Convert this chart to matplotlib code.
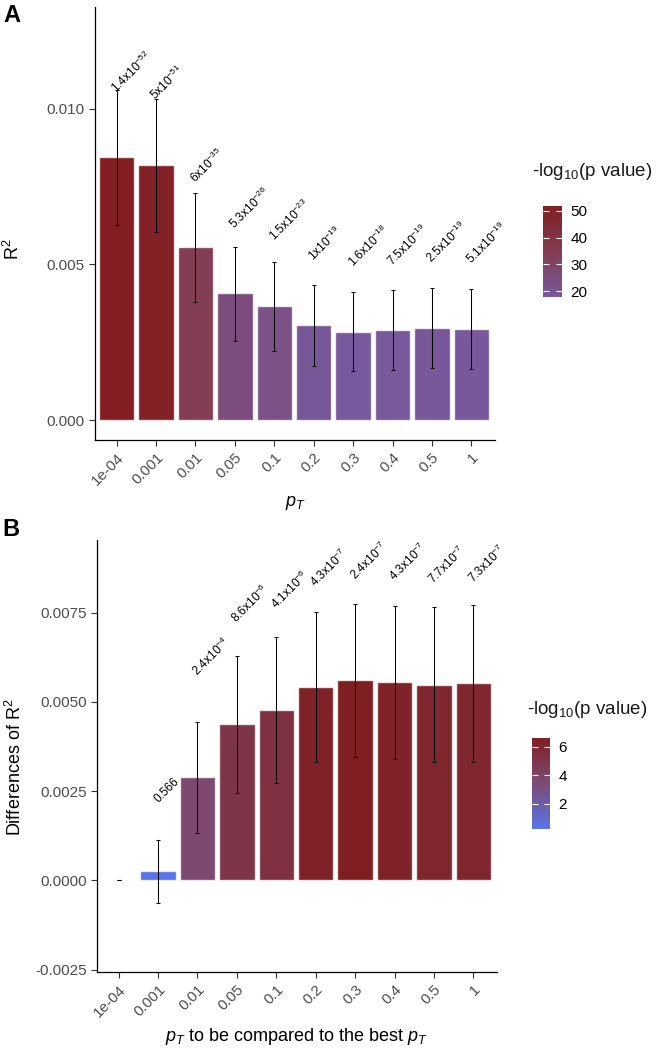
import numpy as np
import matplotlib
matplotlib.use('Agg')
import matplotlib.pyplot as plt
from matplotlib.colors import LinearSegmentedColormap, Normalize
from matplotlib.cm import ScalarMappable

plt.rcParams['font.family'] = ['Liberation Sans', 'DejaVu Sans']
plt.rcParams['mathtext.fontset'] = 'custom'
plt.rcParams['mathtext.rm'] = 'Liberation Sans'
plt.rcParams['mathtext.it'] = 'Liberation Sans:italic'
plt.rcParams['mathtext.bf'] = 'Liberation Sans:bold'

# p value thresholds
pt_labels = ['1e-04', '0.001', '0.01', '0.05', '0.1', '0.2', '0.3', '0.4', '0.5', '1']

# panel A: R2 per threshold
r2 = [0.00844, 0.00819, 0.00555, 0.00408, 0.00367, 0.00304, 0.00283, 0.00288, 0.00296, 0.00293]
r2_lo = [0.00626, 0.00604, 0.00379, 0.00253, 0.00221, 0.00173, 0.00156, 0.00160, 0.00166, 0.00164]
r2_hi = [0.01060, 0.01030, 0.00730, 0.00557, 0.00508, 0.00433, 0.00411, 0.00416, 0.00425, 0.00422]
pa_mant = ['1.4', '5', '6', '5.3', '1.5', '1', '1.6', '7.5', '2.5', '5.1']
pa_exp = [-52, -51, -35, -26, -23, -19, -18, -19, -19, -19]

# panel B: differences of R2 vs best threshold
d_r2 = [0.0, 0.00025, 0.00290, 0.00438, 0.00477, 0.00541, 0.00561, 0.00557, 0.00548, 0.00552]
d_lo = [0.0, -0.00063, 0.00134, 0.00244, 0.00273, 0.00331, 0.00347, 0.00340, 0.00331, 0.00333]
d_hi = [0.0, 0.00112, 0.00444, 0.00630, 0.00682, 0.00751, 0.00775, 0.00770, 0.00766, 0.00772]
pb_mant = [None, '0.566', '2.4', '8.6', '4.1', '4.3', '2.4', '4.3', '7.7', '7.3']
pb_exp = [None, 0, -4, -6, -6, -7, -7, -7, -7, -7]
# height of the p value text (data units)
pb_text_y = [np.nan, 0.00216, 0.0057, 0.0072, 0.0076, 0.00822, 0.00840, 0.00838, 0.00828, 0.00832]


def nlog(m, e):
    if m is None:
        return np.nan
    return -(np.log10(float(m)) + e)


def plabel(m, e):
    if e == 0:
        return m
    return m + r'x10$^{' + str(e) + '}$'


cmap_a = LinearSegmentedColormap.from_list('a', [(0, '#77599D'), (0.48, '#833E54'), (1, '#821E22')])
cmap_b = LinearSegmentedColormap.from_list('b', [(0, '#5874E8'), (0.53, '#7D4970'), (1, '#801F21')])

fig = plt.figure(figsize=(6.6, 10.49), dpi=100)
W, H = 660, 1049


def panel(box, vals, lo, hi, nl, cmap, texts, text_y, yticks, ytlabels, ylim,
          ylabel, ylab_y, xlabel):
    ax = fig.add_axes(box)
    x = np.arange(1, 11)
    vals = np.array(vals)
    nl = np.array(nl)
    norm = Normalize(np.nanmin(nl), np.nanmax(nl))
    ok = ~np.isnan(nl)
    ax.bar(x[ok], vals[ok], width=0.9, color=cmap(norm(nl[ok])),
           edgecolor=(1, 1, 1, 0.75), linewidth=1.0, zorder=2)
    ax.errorbar(x, vals, yerr=[vals - np.array(lo), np.array(hi) - vals], fmt='none',
                ecolor='black', elinewidth=0.75, capsize=1.2, capthick=0.75, zorder=3)
    for xi, t, ty in zip(x, texts, text_y):
        if t is None:
            continue
        ax.text(xi, ty, t, rotation=45, rotation_mode='anchor', ha='left', va='baseline',
                fontsize=8.6, color='black', clip_on=False)
    ax.set_xlim(0.45, 10.6)
    ax.set_ylim(*ylim)
    ax.set_xticks(x)
    ax.set_xticklabels(pt_labels, rotation=45, ha='right', rotation_mode='anchor')
    ax.set_yticks(yticks)
    ax.set_yticklabels(ytlabels)
    ax.tick_params(labelsize=11, labelcolor='#4D4D4D', color='#333333', length=4, width=0.8)
    for s in ['top', 'right']:
        ax.spines[s].set_visible(False)
    for s in ['left', 'bottom']:
        ax.spines[s].set_linewidth(0.9)
    ax.set_ylabel(ylabel, fontsize=13)
    ax.yaxis.set_label_coords(-0.18, ylab_y)
    ax.set_xlabel(xlabel, fontsize=13)
    ax.xaxis.set_label_coords(0.5, -0.125)
    return ax, norm


nl_a = [nlog(m, e) for m, e in zip(pa_mant, pa_exp)]
txt_a = [plabel(m, e) for m, e in zip(pa_mant, pa_exp)]
text_a_y = [v + 0.00205 for v in r2]
axA, normA = panel([95 / W, 1 - 440 / H, 400 / W, 433 / H], r2, r2_lo, r2_hi, nl_a, cmap_a,
                   txt_a, text_a_y, [0, 0.005, 0.010], ['0.000', '0.005', '0.010'],
                   (-0.00064, 0.01326), 'R$^2$', 0.44, '$p_T$')

nl_b = [nlog(m, e) for m, e in zip(pb_mant, pb_exp)]
txt_b = [None if m is None else plabel(m, e) for m, e in zip(pb_mant, pb_exp)]
axB, normB = panel([97 / W, 1 - 972 / H, 400 / W, 432 / H], d_r2, d_lo, d_hi, nl_b, cmap_b,
                   txt_b, pb_text_y, [-0.0025, 0, 0.0025, 0.005, 0.0075],
                   ['-0.0025', '0.0000', '0.0025', '0.0050', '0.0075'],
                   (-0.00257, 0.00954), 'Differences of R$^2$', 0.475,
                   '$p_T$ to be compared to the best $p_T$')


def colorbar(box, norm, cmap, ticks, title_xy):
    cax = fig.add_axes(box)
    cb = fig.colorbar(ScalarMappable(norm=norm, cmap=cmap), cax=cax)
    cb.outline.set_visible(False)
    cb.set_ticks(ticks)
    cb.minorticks_off()
    cax.tick_params(axis='y', direction='in', length=4, width=0.8, color='white',
                    left=True, right=True, labelleft=False, labelright=True,
                    labelsize=11, labelcolor='black', pad=6)
    fig.text(title_xy[0] / W, 1 - title_xy[1] / H, '-log$_{10}$(p value)', fontsize=13.5,
             ha='left', va='center', color='#1A1A1A')


colorbar([543 / W, 1 - 297 / H, 19 / W, 91 / H], normA, cmap_a, [20, 30, 40, 50], (532, 172))
colorbar([532 / W, 1 - 829 / H, 18 / W, 91 / H], normB, cmap_b, [2, 4, 6], (527, 710))

fig.text(3 / W, 1 - 15 / H, 'A', fontsize=17, fontweight='bold', va='center', ha='left')
fig.text(2 / W, 1 - 530 / H, 'B', fontsize=17, fontweight='bold', va='center', ha='left')

fig.savefig('out.png', dpi=100)
